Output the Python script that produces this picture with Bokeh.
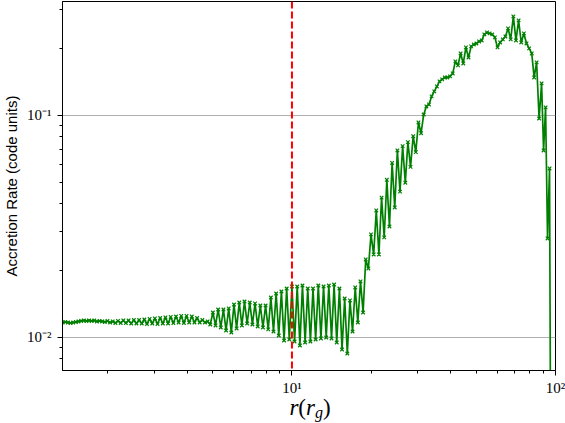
from bokeh.plotting import figure
from bokeh.models import Span, FixedTicker, CustomJSTickFormatter, Div
from bokeh.layouts import column
from bokeh.embed import file_html
from bokeh.resources import INLINE

# radius (r_g)
r = [
    1.349, 1.380, 1.413, 1.445, 1.479, 1.514, 1.549, 1.585, 1.622, 1.660,
    1.698, 1.738, 1.778, 1.820, 1.862, 1.905, 1.950, 1.995, 2.042, 2.089,
    2.138, 2.188, 2.239, 2.291, 2.344, 2.399, 2.455, 2.512, 2.570, 2.630,
    2.692, 2.754, 2.818, 2.884, 2.951, 3.020, 3.090, 3.162, 3.236, 3.311,
    3.388, 3.467, 3.548, 3.631, 3.715, 3.802, 3.890, 3.981, 4.074, 4.169,
    4.266, 4.365, 4.467, 4.571, 4.677, 4.786, 4.898, 5.012, 5.129, 5.248,
    5.370, 5.495, 5.623, 5.754, 5.888, 6.026, 6.166, 6.310, 6.457, 6.607,
    6.761, 6.918, 7.079, 7.244, 7.413, 7.586, 7.762, 7.943, 8.128, 8.318,
    8.511, 8.710, 8.913, 9.120, 9.333, 9.550, 9.772, 10.00, 10.23, 10.47,
    10.72, 10.96, 11.22, 11.48, 11.75, 12.02, 12.30, 12.59, 12.88, 13.18,
    13.49, 13.80, 14.13, 14.45, 14.79, 15.14, 15.49, 15.85, 16.22, 16.60,
    16.98, 17.38, 17.78, 18.20, 18.62, 19.05, 19.50, 19.95, 20.42, 20.89,
    21.38, 21.88, 22.39, 22.91, 23.44, 23.99, 24.55, 25.12, 25.70, 26.30,
    26.92, 27.54, 28.18, 28.84, 29.51, 30.20, 30.90, 31.62, 32.36, 33.11,
    33.88, 34.67, 35.48, 36.31, 37.15, 38.02, 38.90, 39.81, 40.74, 41.69,
    42.66, 43.65, 44.67, 45.71, 46.77, 47.86, 48.98, 50.12, 51.29, 52.48,
    53.70, 54.95, 56.23, 57.54, 58.88, 60.26, 61.66, 63.10, 64.57, 66.07,
    67.61, 69.18, 70.79, 72.44, 74.13, 75.86, 77.62, 79.43,
    81.26, 82.97, 84.79, 86.65, 88.56, 90.11, 91.69, 93.29, 94.93, 96.16,
]

# accretion rate (code units)
mdot = [
    0.01168, 0.01174, 0.01168, 0.01162, 0.01168, 0.01174, 0.01181, 0.01187, 0.01193, 0.01187,
    0.01193, 0.01187, 0.01193, 0.01181, 0.01187, 0.01181, 0.01174, 0.01187, 0.01168, 0.01181,
    0.01162, 0.01187, 0.01162, 0.01193, 0.01162, 0.01193, 0.01156, 0.01199, 0.01156, 0.01199,
    0.01156, 0.01205, 0.01150, 0.01212, 0.01156, 0.01218, 0.01150, 0.01224, 0.01156, 0.01231,
    0.01156, 0.01237, 0.01162, 0.01243, 0.01168, 0.01250, 0.01162, 0.01250, 0.01168, 0.01243,
    0.01168, 0.01224, 0.01168, 0.01199, 0.01168, 0.01181, 0.01144, 0.01296, 0.01133, 0.01337,
    0.01109, 0.01337, 0.01075, 0.01351, 0.01053, 0.01408, 0.01098, 0.01437, 0.01133, 0.01452,
    0.01156, 0.01437, 0.01144, 0.01423, 0.01121, 0.01393, 0.01109, 0.01393, 0.01087, 0.01514,
    0.01064, 0.01578, 0.01021, 0.01611, 0.00969, 0.01662, 0.00979, 0.01697, 0.00959, 0.01697,
    0.00920, 0.01714, 0.00949, 0.01662, 0.00959, 0.01662, 0.00979, 0.01714, 0.00990, 0.01697,
    0.01000, 0.01714, 0.00990, 0.01732, 0.00949, 0.01662, 0.00883, 0.01498, 0.00847, 0.01468,
    0.01064, 0.01680, 0.01168, 0.01788, 0.01296, 0.02246, 0.02046, 0.02912, 0.02366, 0.03733,
    0.02366, 0.04267, 0.02823, 0.05131, 0.03162, 0.06111, 0.03851, 0.06956, 0.04539, 0.07278,
    0.04978, 0.07584, 0.05865, 0.08065, 0.06842, 0.0930, 0.08318, 0.1010, 0.1098, 0.1121,
    0.1218, 0.1283, 0.1351, 0.1423, 0.1453, 0.1483, 0.1483, 0.1499, 0.1546, 0.1751,
    0.1680, 0.1902, 0.1715, 0.2025, 0.1825, 0.2046, 0.2088, 0.2110, 0.2154, 0.2177,
    0.2317, 0.2365, 0.2341, 0.2317, 0.2246, 0.2025, 0.2132, 0.2200, 0.2269, 0.2466,
    0.2200, 0.2793, 0.2177, 0.2679, 0.2132, 0.2341, 0.2110, 0.2004,
    0.1902, 0.1483, 0.1733, 0.0969, 0.1394, 0.06956, 0.1087, 0.02793, 0.05771, 0.001,
]

r_mark = 10.0
x_lim = (1.347, 100.0)
y_lim = (0.0071, 0.326)

x_major = [10, 100]
x_major_labels = ["10\u00b9", "10\u00b2"]
x_minor = [2, 3, 4, 5, 6, 7, 8, 9, 20, 30, 40, 50, 60, 70, 80, 90]
y_major = [0.01, 0.1]
y_major_labels = ["10\u207b\u00b2", "10\u207b\u00b9"]
y_minor = [0.008, 0.009, 0.02, 0.03, 0.04, 0.05, 0.06, 0.07, 0.08, 0.09, 0.2, 0.3]

y_label = "Accretion Rate (code units)"

p = figure(width=565, height=398, x_axis_type="log", y_axis_type="log",
           x_range=x_lim, y_range=y_lim,
           output_backend="svg", toolbar_location=None,
           min_border_left=59, min_border_right=10, min_border_top=1, min_border_bottom=28)
p.background_fill_color = "white"
p.border_fill_color = "white"
p.outline_line_color = "black"
p.outline_line_width = 1

xt = FixedTicker(ticks=x_major, minor_ticks=x_minor)
yt = FixedTicker(ticks=y_major, minor_ticks=y_minor)
p.xaxis.ticker = xt
p.yaxis.ticker = yt
p.xgrid.visible = False
p.ygrid.ticker = yt
p.ygrid.grid_line_color = "#b0b0b0"
p.ygrid.grid_line_width = 1

fmt_code = """
const i = vals.findIndex(v => Math.abs(v - tick) <= 1e-9 * Math.abs(v));
return i >= 0 ? labs[i] : "";
"""
p.xaxis.formatter = CustomJSTickFormatter(args=dict(vals=x_major, labs=x_major_labels), code=fmt_code)
p.yaxis.formatter = CustomJSTickFormatter(args=dict(vals=y_major, labs=y_major_labels), code=fmt_code)

for ax in (p.xaxis, p.yaxis):
    ax.axis_line_color = "black"
    ax.major_tick_line_color = "black"
    ax.minor_tick_line_color = "black"
    ax.major_tick_out = 5
    ax.major_tick_in = 0
    ax.minor_tick_out = 3
    ax.minor_tick_in = 0
    ax.major_label_text_font = "Liberation Serif"
    ax.major_label_text_font_size = "15px"
    ax.major_label_text_color = "black"

p.xaxis.major_label_standoff = 4
p.yaxis.axis_label = y_label
p.yaxis.axis_label_text_font = "Liberation Sans"
p.yaxis.axis_label_text_font_style = "normal"
p.yaxis.axis_label_text_font_size = "15px"
p.yaxis.axis_label_text_color = "black"
p.yaxis.major_label_standoff = 6
p.yaxis.axis_label_standoff = 4

p.line(r, mdot, line_color="green", line_width=1.7)
p.scatter(r, mdot, marker="x", size=5, line_color="green", line_width=1.2)

p.add_layout(Span(location=r_mark, dimension="height", line_color="red",
                  line_dash="7 3", line_width=2))

x_label_html = (
    '<div style="width:516px; margin-left:47px; text-align:center; position:relative; top:-7px;'
    ' line-height:23px; font-family:\'Liberation Serif\'; font-size:23px; color:black;">'
    '<i>r</i>(<i>r</i><sub style="font-size:16px; line-height:0; vertical-align:-3px;">'
    '<i>g</i></sub>)</div>'
)
x_label = Div(text=x_label_html, width=565, height=25)

layout = column(p, x_label, spacing=0)

open("out.html", "w", encoding="utf-8").write(file_html(layout, INLINE))
